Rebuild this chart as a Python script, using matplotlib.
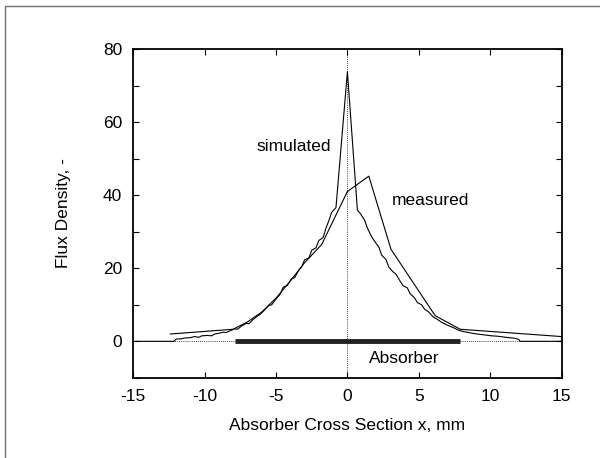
import matplotlib
matplotlib.use("Agg")
import matplotlib.pyplot as plt
from matplotlib.patches import Rectangle
from matplotlib.ticker import FuncFormatter, MultipleLocator

plt.rcParams["font.family"] = ["Liberation Sans", "DejaVu Sans"]
plt.rcParams["font.size"] = 12.5
plt.rcParams["axes.unicode_minus"] = False

# measured flux density (piecewise linear)
meas_x = [-12.4, -8.0, -7.0, -6.0, -5.0, -4.0, -3.0, -1.8, 0.0, 1.5, 3.05, 6.15, 7.9, 15.0]
meas_y = [2.0, 3.3, 5.3, 8.0, 11.8, 16.5, 21.5, 26.5, 41.0, 45.2, 25.2, 7.0, 3.3, 1.3]

# simulated flux density (ray tracing, noisy)
sim_x = [-15.0, -12.15, -12.0, -11.6, -11.4, -11.0, -10.7, -10.4, -10.2, -9.8, -9.5, -9.3,
         -9.0, -8.7, -8.5, -8.2, -7.9, -7.7, -7.4, -7.1, -6.9, -6.6, -6.3, -6.1, -5.8,
         -5.5, -5.3, -5.0, -4.7, -4.5, -4.2, -3.9, -3.7, -3.4, -3.2, -3.0, -2.7, -2.5,
         -2.2, -2.0, -1.7, -1.5, -1.3, -1.1, -0.8, 0.0,
         0.7, 0.9, 1.2, 1.4, 1.7, 1.9, 2.2, 2.4, 2.7, 2.9, 3.2, 3.4, 3.7, 3.9, 4.2, 4.4,
         4.7, 4.9, 5.2, 5.4, 5.7, 6.0, 6.3, 6.6, 6.9, 7.2, 7.5, 7.8, 8.1, 8.5, 8.9,
         9.3, 9.7, 10.1, 10.5, 10.9, 11.3, 11.8, 12.0, 12.1, 15.0]
sim_y = [0.0, 0.0, 0.6, 0.7, 0.9, 1.0, 1.3, 1.1, 1.5, 1.6, 1.5, 2.0,
         2.2, 2.5, 2.4, 2.9, 3.4, 3.3, 4.2, 4.9, 4.8, 6.0, 6.9, 7.4, 8.6,
         9.8, 10.0, 11.6, 12.9, 14.8, 15.3, 17.2, 17.4, 19.5, 20.4, 22.3, 22.8, 24.9,
         25.6, 27.6, 28.4, 31.0, 33.0, 35.3, 36.6, 73.8,
         35.9, 35.0, 33.2, 31.0, 28.6, 27.4, 25.8, 23.6, 22.4, 20.3, 19.0, 18.4, 16.4, 15.2, 14.6, 13.0,
         11.9, 10.6, 10.0, 8.8, 8.0, 6.7, 6.0, 5.2, 4.6, 4.1, 3.6, 3.0, 2.7, 2.4, 2.1,
         1.9, 1.7, 1.5, 1.4, 1.2, 1.0, 0.8, 0.5, 0.0, 0.0]

absorber_x = [-7.9, 7.9]

fig = plt.figure(figsize=(6.0, 4.58), dpi=100)
ax = fig.add_axes([0.222, 0.175, 0.714, 0.718])

# zero line and centre line
ax.axhline(0, color="black", lw=0.6, ls=(0, (1, 1.5)), zorder=1)
ax.axvline(0, color="black", lw=0.6, ls=(0, (1, 1.5)), zorder=1)

ax.plot(sim_x, sim_y, color="black", lw=0.8, zorder=3)
ax.plot(meas_x, meas_y, color="black", lw=0.8, zorder=3)
ax.plot(absorber_x, [0, 0], color="#222222", lw=3.5, solid_capstyle="butt", zorder=2)

ax.text(-1.15, 53.2, "simulated", ha="right", va="center")
ax.text(3.1, 38.6, "measured", ha="left", va="center")
ax.text(4.0, -4.8, "Absorber", ha="center", va="center")

ax.set_xlim(-15, 15)
ax.set_ylim(-10, 80)
ax.set_xticks([-15, -10, -5, 0, 5, 10, 15])
ax.yaxis.set_major_locator(MultipleLocator(10))
ax.yaxis.set_major_formatter(FuncFormatter(lambda v, p: f"{v:.0f}" if v >= 0 and v % 20 == 0 else ""))
ax.tick_params(direction="in", top=True, right=True, length=4, width=0.8)
ax.tick_params(axis="x", pad=8)
ax.tick_params(axis="y", pad=8)
for s in ax.spines.values():
    s.set_linewidth(1.3)

ax.set_xlabel("Absorber Cross Section x, mm", labelpad=10)
ax.set_ylabel("Flux Density, -", labelpad=23)

# outer frame of the figure
fig.patches.append(Rectangle((4.5 / 600, -0.2), 1.2, 1.2 - 5.5 / 458, transform=fig.transFigure,
                             fill=False, edgecolor="#707070", lw=1.0))

fig.savefig("out.png", dpi=100)
